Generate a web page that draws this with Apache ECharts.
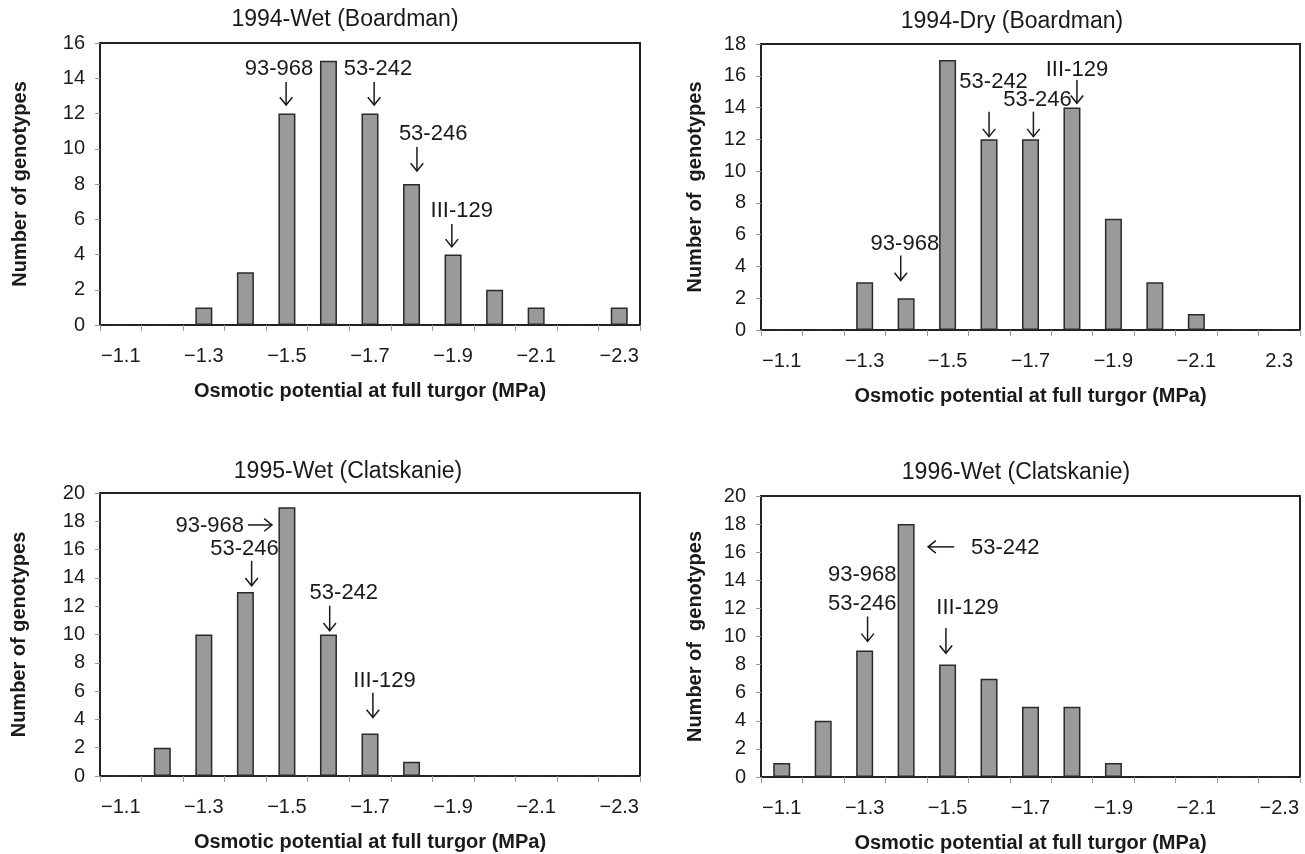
<!DOCTYPE html>
<html>
<head>
<meta charset="utf-8">
<script src="https://cdn.jsdelivr.net/npm/echarts@6/dist/echarts.min.js"></script>
<style>html,body{margin:0;padding:0;background:#fff}#c{width:1305px;height:854px}</style>
</head>
<body>
<div id="c"></div>
<script>
// ---- data ----
const panelTitles = ['1994-Wet (Boardman)', '1994-Dry (Boardman)', '1995-Wet (Clatskanie)', '1996-Wet (Clatskanie)'];
const categoriesStd = ['−1.1','−1.2','−1.3','−1.4','−1.5','−1.6','−1.7','−1.8','−1.9','−2.0','−2.1','−2.2','−2.3'];
const categoriesDry = ['−1.1','−1.2','−1.3','−1.4','−1.5','−1.6','−1.7','−1.8','−1.9','−2.0','−2.1','−2.2','2.3'];
const wet1994 = [0,0,1,3,12,15,12,8,4,2,1,0,1];
const dry1994 = [0,0,3,2,17,12,12,14,7,3,1,0,0];
const wet1995 = [0,2,10,13,19,10,3,1,0,0,0,0,0];
const wet1996 = [1,4,9,18,8,7,5,5,1,0,0,0,0];
const yMaxima = [16,18,20,20];
const yNames = ['Number of genotypes','Number of  genotypes','Number of genotypes','Number of  genotypes'];
const xName = 'Osmotic potential at full turgor (MPa)';

// annotations: x in category-index units, y in data units
const notes1 = [{t:'93-968',x:3.81,y:14.55},{t:'53-242',x:6.19,y:14.55},{t:'53-246',x:7.52,y:10.84},{t:'III-129',x:8.21,y:6.47}];
const arrows1 = [[3.98,13.79,3.98,12.48],[6.1,13.79,6.1,12.48],[7.13,10.1,7.13,8.74],[7.97,5.73,7.97,4.43]];
const notes2 = [{t:'93-968',x:2.97,y:5.43},{t:'53-242',x:5.11,y:15.64},{t:'53-246',x:6.17,y:14.48},{t:'III-129',x:7.12,y:16.34}];
const arrows2 = [[2.87,4.69,2.87,3.11],[5.0,13.74,5.0,12.17],[6.07,13.74,6.07,12.17],[7.12,15.74,7.12,14.27]];
const notes3 = [{t:'93-968',x:2.14,y:17.64},{t:'53-246',x:2.98,y:16.08},{t:'53-242',x:5.37,y:12.93},{t:'III-129',x:6.35,y:6.72}];
const arrows3 = [[3.06,17.74,3.64,17.74],[3.15,15.21,3.15,13.44],[5.03,12.03,5.03,10.26],[6.07,5.89,6.07,4.13]];
const notes4 = [{t:'53-242',x:5.39,y:16.3},{t:'93-968',x:1.94,y:14.4},{t:'53-246',x:1.94,y:12.33},{t:'III-129',x:4.48,y:12.02}];
const arrows4 = [[4.16,16.38,3.53,16.38],[2.07,11.43,2.07,9.65],[3.96,10.6,3.96,8.81]];

// ---- layout / style ----
const FONT = '"Liberation Sans", Arial, sans-serif';
const TXT = '#1a1a1a';
const grids = [
  {left:100, top:43, width:540, height:282},
  {left:761, top:44, width:539, height:286},
  {left:100, top:493, width:540, height:283},
  {left:761, top:496, width:539, height:282}
];
const titlePos = [[345,8],[1012,10],[348,460],[1016,461]];
const yNameGaps = [70,56,71,56];
const seriesValues = [wet1994, dry1994, wet1995, wet1996];
const cats = [categoriesStd, categoriesDry, categoriesStd, categoriesStd];
const notes = [notes1, notes2, notes3, notes4];
const arrows = [arrows1, arrows2, arrows3, arrows4];

function annotationRenderer(ns, as) {
  return function(params, api) {
    const x0 = api.coord([0, 0])[0];
    const w = api.size([1, 0])[0];
    const px = v => x0 + v * w;
    const py = v => api.coord([0, v])[1];
    const children = [];
    ns.forEach(n => children.push({
      type: 'text',
      style: {text: n.t, x: px(n.x), y: py(n.y), align: 'center', verticalAlign: 'middle',
              fontSize: 22, fontFamily: FONT, fill: TXT}
    }));
    as.forEach(a => {
      const x1 = px(a[0]), y1 = py(a[1]), x2 = px(a[2]), y2 = py(a[3]);
      const ang = Math.atan2(y2 - y1, x2 - x1);
      const hl = 10, ha = 0.68;
      children.push({type: 'line', shape: {x1, y1, x2, y2}, style: {stroke: TXT, lineWidth: 1.5}});
      children.push({type: 'polyline', shape: {points: [
        [x2 - hl * Math.cos(ang - ha), y2 - hl * Math.sin(ang - ha)],
        [x2, y2],
        [x2 - hl * Math.cos(ang + ha), y2 - hl * Math.sin(ang + ha)]
      ]}, style: {stroke: TXT, lineWidth: 1.5, fill: null}});
    });
    return {type: 'group', children};
  };
}

const option = {
  animation: false,
  backgroundColor: '#fff',
  title: panelTitles.map((t, i) => ({
    text: t, left: titlePos[i][0], top: titlePos[i][1], textAlign: 'center', padding: 0,
    textStyle: {fontSize: 23, fontWeight: 'normal', fontFamily: FONT, color: TXT}
  })),
  grid: grids.map(g => Object.assign({show: true, borderColor: '#222', borderWidth: 2, backgroundColor: '#fff'}, g)),
  xAxis: cats.map((c, i) => ({
    type: 'category', gridIndex: i, data: c, boundaryGap: true,
    name: xName, nameLocation: 'middle', nameGap: 56,
    nameTextStyle: {fontSize: 20, fontWeight: 'bold', fontFamily: FONT, color: TXT},
    axisLine: {lineStyle: {color: '#222', width: 2}},
    axisTick: {show: true, interval: 0, length: 6, lineStyle: {color: '#999', width: 1}},
    axisLabel: {interval: 1, fontSize: 20, fontFamily: FONT, color: TXT, margin: 21},
    splitLine: {show: false}
  })),
  yAxis: yMaxima.map((m, i) => ({
    type: 'value', gridIndex: i, min: 0, max: m, interval: 2,
    name: yNames[i], nameLocation: 'middle', nameRotate: 90, nameGap: yNameGaps[i],
    nameTextStyle: {fontSize: 20, fontWeight: 'bold', fontFamily: FONT, color: TXT},
    axisLine: {show: true, lineStyle: {color: '#222', width: 2}},
    axisTick: {show: true, length: 5, lineStyle: {color: '#999', width: 1}},
    axisLabel: {fontSize: 20, fontFamily: FONT, color: TXT, margin: 15},
    splitLine: {show: false}
  })),
  series: seriesValues.map((v, i) => ({
    type: 'bar', xAxisIndex: i, yAxisIndex: i, data: v, barWidth: 17,
    itemStyle: {color: '#9a9a9a', borderColor: '#2a2a2a', borderWidth: 1.5}
  })).concat(notes.map((n, i) => ({
    type: 'custom', xAxisIndex: i, yAxisIndex: i, data: [[0, 0]], z: 5,
    renderItem: annotationRenderer(n, arrows[i])
  })))
};

const chart = echarts.init(document.getElementById('c'), null, {renderer: 'canvas'});
chart.setOption(option);
</script>
</body>
</html>
